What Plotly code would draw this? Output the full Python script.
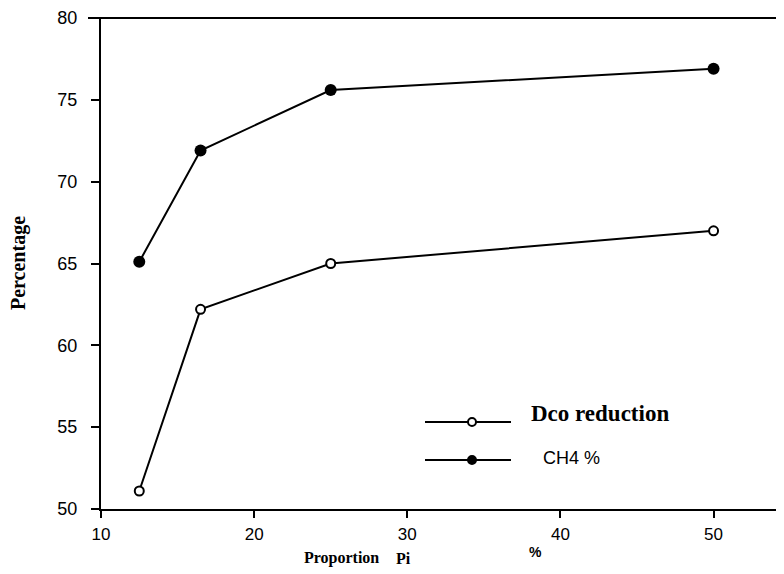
import plotly.graph_objects as go

proportion_pi = [12.5, 16.5, 25, 50]
dco_reduction = [51.1, 62.2, 65.0, 67.0]
ch4_percent = [65.1, 71.9, 75.6, 76.9]

x_ticks = [10, 20, 30, 40, 50]
y_ticks = [50, 55, 60, 65, 70, 75, 80]

# page is shown with an 8px body margin; figure sized to fit 784x574 window
W, H = 776, 566
L, T, B = 93, 10, 65
PW, PH = W - L, H - T - B


def px(xp):
    return (xp - 8 - L) / PW


def py(yp):
    return (H - B - (yp - 8)) / PH


fig = go.Figure()
fig.add_trace(go.Scatter(
    x=proportion_pi, y=ch4_percent, mode="lines+markers", name="CH4 %",
    line=dict(color="black", width=2),
    marker=dict(symbol="circle", size=12, color="black"),
    cliponaxis=False, showlegend=False))
fig.add_trace(go.Scatter(
    x=proportion_pi, y=dco_reduction, mode="lines+markers", name="Dco reduction",
    line=dict(color="black", width=2),
    marker=dict(symbol="circle", size=9, color="white", line=dict(color="black", width=2)),
    cliponaxis=False, showlegend=False))

fig.update_layout(
    width=W, height=H,
    margin=dict(l=L, r=0, t=T, b=B),
    paper_bgcolor="white", plot_bgcolor="white",
    font=dict(family="Liberation Sans", color="black", size=15),
    xaxis=dict(range=[10, 54.6], tickvals=x_ticks, ticktext=[str(v) for v in x_ticks],
               showgrid=False, zeroline=False, showline=True, linecolor="black", linewidth=2,
               ticks="outside", ticklen=7, tickwidth=2, tickcolor="black",
               ticklabelstandoff=2,
               tickfont=dict(size=17, family="Liberation Sans")),
    yaxis=dict(range=[50, 80], tickvals=y_ticks,
               showgrid=False, zeroline=False, showline=True, linecolor="black", linewidth=2,
               ticks="outside", ticklen=8, tickwidth=2, tickcolor="black",
               ticklabelstandoff=10,
               tickfont=dict(size=18, family="Liberation Sans")),
)

# top border line
fig.add_shape(type="line", xref="paper", yref="paper", x0=px(88), x1=1, y0=1, y1=1,
              line=dict(color="black", width=2))

# axis titles
fig.add_annotation(text="<b>Percentage</b>", xref="paper", yref="paper",
                   x=px(18), y=py(263), textangle=-90, showarrow=False,
                   xanchor="center", yanchor="middle",
                   font=dict(family="Liberation Serif", size=20))
fig.add_annotation(text="<b>Proportion</b>", xref="paper", yref="paper",
                   x=px(302), y=py(558), xanchor="left", yanchor="middle", showarrow=False,
                   font=dict(family="Liberation Serif", size=16))
fig.add_annotation(text="<b>Pi</b>", xref="paper", yref="paper",
                   x=px(394), y=py(558), xanchor="left", yanchor="middle", showarrow=False,
                   font=dict(family="Liberation Serif", size=16))
fig.add_annotation(text="<b>%</b>", xref="paper", yref="paper",
                   x=px(535), y=py(552), xanchor="center", yanchor="middle", showarrow=False,
                   font=dict(family="Liberation Sans", size=14))

# legend drawn manually
leg = [("<b>Dco reduction</b>", "Liberation Serif", 23, 422, 413, 529, "white"),
       ("CH4 %", "Liberation Sans", 18, 460, 458, 541, "black")]
for text, fam, fs, ly, ty, tx, fill in leg:
    fig.add_shape(type="line", xref="paper", yref="paper", x0=px(425), x1=px(511),
                  y0=py(ly), y1=py(ly), line=dict(color="black", width=2))
    fig.add_shape(type="circle", xref="paper", yref="paper",
                  x0=px(468), x1=px(476), y0=py(ly + 4), y1=py(ly - 4),
                  fillcolor=fill, line=dict(color="black", width=2))
    fig.add_annotation(text=text, xref="paper", yref="paper", x=px(tx), y=py(ty),
                       xanchor="left", yanchor="middle", showarrow=False,
                       font=dict(family=fam, size=fs))

fig.write_html("out.html")
